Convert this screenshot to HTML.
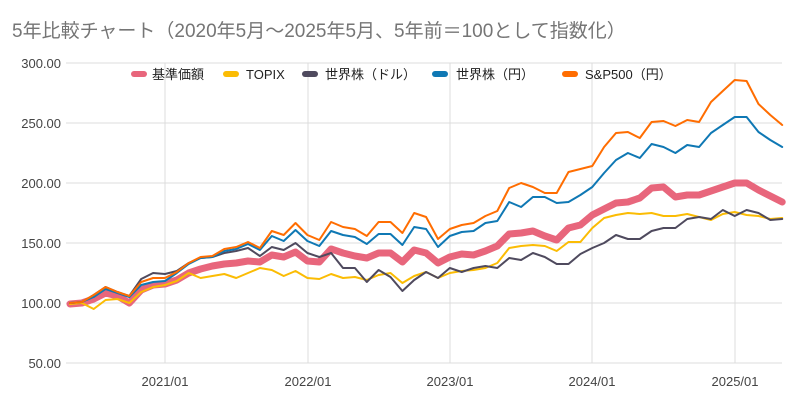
<!DOCTYPE html>
<html><head><meta charset="utf-8"><style>
body{margin:0;background:#fff;}
svg text{font-family:"Liberation Sans","Noto Sans CJK JP",sans-serif;}
</style></head><body>
<svg id="s" width="800" height="405" xmlns="http://www.w3.org/2000/svg">
<rect width="800" height="405" fill="#fff"/>
<text x="12" y="37" font-size="19" fill="#757575">5年比較チャート（2020年5月～2025年5月、5年前＝100として指数化）</text>
<g stroke="#dcdcdc" stroke-width="1">
<line x1="66" x2="782" y1="63" y2="63"/><line x1="66" x2="782" y1="123" y2="123"/>
<line x1="66" x2="782" y1="183" y2="183"/><line x1="66" x2="782" y1="243" y2="243"/>
<line x1="66" x2="782" y1="303" y2="303"/><line x1="66" x2="782" y1="363" y2="363"/>
<line x1="165" x2="165" y1="63" y2="363"/><line x1="308" x2="308" y1="63" y2="363"/>
<line x1="450" x2="450" y1="63" y2="363"/><line x1="592" x2="592" y1="63" y2="363"/>
<line x1="735" x2="735" y1="63" y2="363"/>
</g>
<g font-size="13" fill="#444" text-anchor="end">
<text x="61" y="68">300.00</text><text x="61" y="128">250.00</text><text x="61" y="188">200.00</text>
<text x="61" y="248">150.00</text><text x="61" y="308">100.00</text><text x="61" y="368">50.00</text>
</g>
<g font-size="13" fill="#444" text-anchor="middle">
<text x="165" y="386">2021/01</text><text x="308" y="386">2022/01</text><text x="450" y="386">2023/01</text>
<text x="592" y="386">2024/01</text><text x="735" y="386">2025/01</text>
</g>
<g font-size="13" fill="#222">
<rect x="131" y="71" width="16" height="6" rx="3" fill="#e8667c"/><text x="152" y="79">基準価額</text>
<rect x="223" y="71" width="16" height="6" rx="3" fill="#fbbc04"/><text x="246" y="79">TOPIX</text>
<rect x="302" y="71" width="16" height="6" rx="3" fill="#4f4a5e"/><text x="325" y="79">世界株（ドル）</text>
<rect x="432" y="71" width="16" height="6" rx="3" fill="#0f78b4"/><text x="456" y="79">世界株（円）</text>
<rect x="562" y="71" width="16" height="6" rx="3" fill="#ff6d01"/><text x="585" y="79">S&amp;P500（円）</text>
</g>
<g id="lines" fill="none" stroke-linejoin="round" stroke-linecap="round"></g>
</svg>
<script>
var D={
or:[303,302,295,287,292,296,282,278,278,272,263,257,256,249,247,242,248,231,235,223,235,240,222,227,229,236,222,222,233,213,217,239,229,225,223,216,211,188,183,187,193,193,172,169,166,147,133,132,138,122,121,126,120,122,102,91,80,81,104,115,125],
bl:[303,302,297,289,293,297,285,282,281,273,264,258,257,251,249,244,250,236,241,230,241,246,231,235,237,244,234,234,245,227,229,247,236,232,231,223,221,202,207,197,197,203,202,195,187,173,160,153,158,144,147,153,145,147,133,125,117,117,132,140,147],
gr:[303,302,295,287,292,296,279,273,274,271,263,258,257,253,251,248,256,247,250,243,253,257,253,268,268,282,270,277,291,280,272,278,268,272,268,266,268,258,260,253,257,264,264,254,248,243,235,239,239,231,228,228,219,217,219,210,216,210,213,220,219],
ye:[304,303,309,300,299,303,292,287,285,281,273,278,276,274,278,273,268,270,276,271,278,279,274,278,277,280,275,273,283,276,272,278,273,271,270,268,263,248,246,245,246,251,242,242,228,218,215,213,214,213,216,216,214,217,220,214,212,215,216,219,218],
pk:[304,303,299,293,296,303,290,285,284,280,273,269,266,264,263,261,262,255,257,252,261,262,249,253,256,258,253,253,262,250,253,263,257,254,255,251,246,234,233,231,236,240,228,225,215,209,203,202,198,188,187,197,195,195,191,187,183,183,190,196,202]};
var S=[['pk','#e8667c',7],['ye','#fbbc04',2],['gr','#4f4a5e',2],['bl','#0f78b4',2],['or','#ff6d01',2]];
var g=document.getElementById('lines'),h='';
S.forEach(function(s){var p=D[s[0]].map(function(y,i){return (70+i*11.87).toFixed(1)+','+y}).join(' ');
h+='<polyline points="'+p+'" stroke="'+s[1]+'" stroke-width="'+s[2]+'"/>';});
g.innerHTML=h;
</script>
</body></html>
